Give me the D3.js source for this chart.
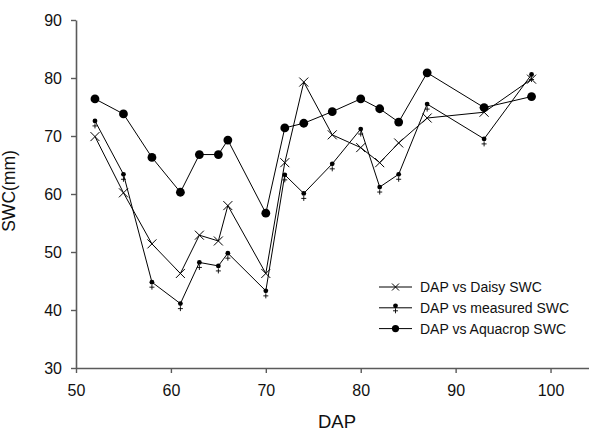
<!DOCTYPE html>
<html>
  <head>
    <script src="https://d3js.org/d3.v7.min.js"></script>
    <style>
      body { margin: 0; background: #ffffff; }
      text { font-family: "Liberation Sans", Arial, sans-serif; fill: #111; }
    </style>
  </head>
  <body>
    <svg width="589" height="431" id="mainsvg"></svg>
    <script>
        // data
        const dap = [52, 55, 58, 61, 63, 65, 66, 70, 72, 74, 77, 80, 82, 84, 87, 93, 98];
        const daisySWC = [69.9, 60.2, 51.4, 46.3, 52.9, 51.9, 58.0, 46.3, 65.4, 79.3, 70.2, 68.0, 65.4, 68.8, 73.1, 74.1, 79.8];
        const measuredSWC = [72.6, 63.4, 44.8, 41.1, 48.2, 47.6, 49.8, 43.3, 63.3, 60.1, 65.2, 71.2, 61.2, 63.4, 75.5, 69.5, 80.6];
        const aquacropSWC = [76.4, 73.8, 66.3, 60.3, 66.8, 66.8, 69.3, 56.7, 71.4, 72.2, 74.2, 76.4, 74.7, 72.4, 80.9, 74.9, 76.8];
        const xTicks = [50, 60, 70, 80, 90, 100];
        const yTicks = [30, 40, 50, 60, 70, 80, 90];
        const legendLabels = ['DAP vs Daisy SWC', 'DAP vs measured SWC', 'DAP vs Aquacrop SWC'];

        const svg = d3.select('#mainsvg');
        const margin = {top: 20, left: 76};
        const innerWidth = 512.5;
        const innerHeight = 348;

        const xScale = d3.scaleLinear().domain([50, 104]).range([0, innerWidth]);
        const yScale = d3.scaleLinear().domain([30, 90]).range([innerHeight, 0]);

        const g = svg.append('g')
            .attr('transform', `translate(${margin.left}, ${margin.top})`);

        // axes
        const xAxis = d3.axisBottom(xScale).tickValues(xTicks).tickSize(5).tickPadding(12).tickSizeOuter(0);
        const yAxis = d3.axisLeft(yScale).tickValues(yTicks).tickSize(5).tickPadding(9).tickSizeOuter(0);

        const xAxisGroup = g.append('g').attr('transform', `translate(0, ${innerHeight})`).call(xAxis);
        const yAxisGroup = g.append('g').call(yAxis);
        [xAxisGroup, yAxisGroup].forEach(ax => {
            ax.selectAll('.domain').attr('stroke', '#5a5a5a').attr('stroke-width', 1.6);
            ax.selectAll('.tick line').attr('stroke', '#5a5a5a').attr('stroke-width', 1.4);
            ax.selectAll('.tick text').attr('font-size', 16).attr('font-family', 'Liberation Sans, Arial, sans-serif').attr('fill', '#111');
        });

        svg.append('text')
            .attr('x', 337)
            .attr('y', 428)
            .attr('text-anchor', 'middle')
            .attr('font-size', 18.5)
            .text('DAP');
        svg.append('text')
            .attr('transform', 'translate(15, 191) rotate(-90)')
            .attr('text-anchor', 'middle')
            .attr('font-size', 17.5)
            .text('SWC(mm)');

        const line = d3.line().x(d => xScale(d[0])).y(d => yScale(d[1]));
        const pairs = vals => dap.map((d, i) => [d, vals[i]]);

        // marker drawers
        const drawCross = (sel, x, y, s) => {
            sel.append('path')
                .attr('d', `M${x - s},${y - s}L${x + s},${y + s}M${x - s},${y + s}L${x + s},${y - s}`)
                .attr('stroke', '#000').attr('stroke-width', 1).attr('fill', 'none');
        };
        const drawMeasured = (sel, x, y) => {
            sel.append('circle').attr('cx', x).attr('cy', y).attr('r', 2.4).attr('fill', '#000');
            sel.append('path')
                .attr('d', `M${x - 2.5},${y + 5}L${x + 2.5},${y + 5}M${x},${y + 2.5}L${x},${y + 7.5}`)
                .attr('stroke', '#000').attr('stroke-width', 0.9).attr('fill', 'none');
        };
        const drawBig = (sel, x, y, r) => {
            sel.append('circle').attr('cx', x).attr('cy', y).attr('r', r).attr('fill', '#000');
        };

        const series = [
            {vals: daisySWC, mark: (s, x, y) => drawCross(s, x, y, 4.5)},
            {vals: measuredSWC, mark: (s, x, y) => drawMeasured(s, x, y)},
            {vals: aquacropSWC, mark: (s, x, y) => drawBig(s, x, y, 4.4)}
        ];

        series.forEach(sr => {
            const data = pairs(sr.vals);
            g.append('path').datum(data)
                .attr('d', line)
                .attr('fill', 'none')
                .attr('stroke', '#000')
                .attr('stroke-width', 1);
            const mg = g.append('g');
            data.forEach(d => sr.mark(mg, xScale(d[0]), yScale(d[1])));
        });

        // legend
        const legend = svg.append('g').attr('transform', 'translate(379, 287)');
        const legendMarks = [
            (s, x, y) => drawCross(s, x, y, 3.5),
            (s, x, y) => drawMeasured(s, x, y - 2),
            (s, x, y) => drawBig(s, x, y, 3.6)
        ];
        legendLabels.forEach((lab, i) => {
            const yy = i * 20.8;
            legend.append('line')
                .attr('x1', 0).attr('x2', 33).attr('y1', yy).attr('y2', yy)
                .attr('stroke', '#000').attr('stroke-width', 1);
            legendMarks[i](legend, 16.5, yy);
            legend.append('text')
                .attr('x', 41).attr('y', yy + 5)
                .attr('font-size', 14)
                .text(lab);
        });
    </script>
  </body>
</html>
